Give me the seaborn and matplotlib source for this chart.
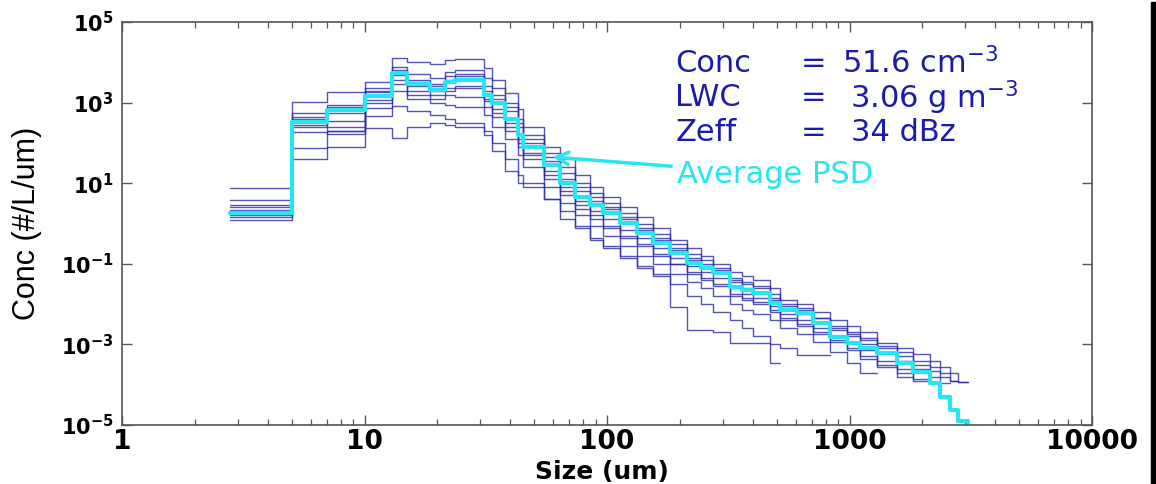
import numpy as np
import pandas as pd
import matplotlib
matplotlib.use("Agg")
import matplotlib.pyplot as plt
from matplotlib.patches import Rectangle
from matplotlib.ticker import FixedLocator, LogLocator, NullFormatter, NullLocator
import seaborn as sns

# ---------------- data ----------------
bin_edges = [2.8, 5, 7, 10, 13, 15, 18.6, 21.5, 23.6, 31, 33.6, 38, 43, 45, 55, 64, 74, 85,
             96, 113, 133, 155, 182, 214, 245, 273, 322, 360, 400, 470, 517, 608, 707, 831,
             977, 1105, 1298, 1570, 1828, 2148, 2362, 2596, 2800, 3080, 3400]

# log10 of concentration (#/L/um) per bin
avg_psd = [0.26, 2.52, 2.82, 3.16, 3.73, 3.47, 3.31, 3.50, 3.56, 3.20, 2.98, 2.60, 2.20, 1.90,
           1.45, 1.00, 0.66, 0.46, 0.26, 0.01, -0.24, -0.48, -0.73, -0.98, -1.10, -1.23, -1.58,
           -1.65, -1.72, -1.97, -2.15, -2.22, -2.47, -2.82, -2.97, -3.10, -3.21, -3.46, -3.68,
           -3.96, -4.31, -4.63, -4.90]

psd_1 = [0.88, 3.01, 3.26, 3.51, 4.10, 4.00, 3.95, 4.05, 4.08, 3.85, 3.55, 3.25, 2.85, 2.40, 1.90,
         1.60, 1.20, 0.90, 0.65, 0.40, 0.15, -0.10, -0.40, -0.60, -0.80, -1.00, -1.20, -1.30, -1.40,
         -1.60, -1.90, -2.00, -2.20, -2.40, -2.55, -2.70, -2.97, -3.10, -3.25, -3.40, -3.55, -3.70, -3.93]
psd_2 = [0.58, 2.74, 2.89, 3.36, 3.88, 3.70, 3.60, 3.75, 3.80, 3.60, 3.35, 3.00, 2.60, 2.20, 1.75,
         1.40, 1.00, 0.75, 0.50, 0.25, 0.00, -0.25, -0.50, -0.75, -0.90, -1.10, -1.35, -1.45, -1.55,
         -1.75, -2.00, -2.10, -2.35, -2.55, -2.70, -2.85, -3.05, -3.20, -3.40, -3.55, -3.70, -3.90]
psd_3 = [0.41, 2.64, 2.74, 3.26, 3.76, 3.50, 3.40, 3.55, 3.65, 3.30, 3.10, 2.80, 2.40, 2.00, 1.55,
         1.10, 0.80, 0.55, 0.35, 0.10, -0.15, -0.40, -0.65, -0.90, -1.05, -1.20, -1.45, -1.60, -1.70,
         -1.90, -2.10, -2.25, -2.45, -2.65, -2.80, -3.00, -3.20, -3.40, -3.60, -3.80, -3.95]
psd_4 = [0.33, 2.52, 2.39, 3.16, 3.68, 3.40, 3.30, 3.35, 3.40, 3.10, 2.85, 2.50, 2.10, 1.75, 1.30,
         0.90, 0.55, 0.30, 0.10, -0.15, -0.35, -0.60, -0.85, -1.05, -1.20, -1.35, -1.60, -1.75, -1.85,
         -2.05, -2.25, -2.40, -2.60, -2.80, -3.00, -3.15, -3.40, -3.60, -3.85]
psd_5 = [0.26, 2.39, 2.30, 3.06, 3.56, 3.30, 3.20, 3.20, 3.15, 2.90, 2.65, 2.30, 1.90, 1.60, 1.10,
         0.70, 0.35, 0.10, -0.10, -0.35, -0.55, -0.80, -1.00, -1.25, -1.40, -1.55, -1.80, -1.90, -2.00,
         -2.20, -2.40, -2.55, -2.75, -2.95, -3.15, -3.35, -3.55, -3.80]
psd_6 = [0.21, 2.27, 2.22, 2.87, 3.29, 3.10, 3.00, 2.95, 2.90, 2.70, 2.40, 2.10, 1.70, 1.40, 0.90,
         0.50, 0.20, -0.05, -0.30, -0.55, -0.80, -1.00, -1.25, -1.45, -1.60, -1.80, -2.00, -2.15, -2.25,
         -2.40, -2.60, -2.75, -2.95, -3.20, -3.45, -3.70]
psd_7 = [0.09, 1.87, 1.90, 2.67, 2.92, 2.80, 2.70, 2.60, 2.50, 2.20, 1.80, 1.30, 1.00, 0.90, 0.60,
         0.10, -0.10, -0.40, -0.60, -0.85, -1.10, -1.30, -2.07, -2.64, -2.64, -2.70, -2.97, -2.97, -2.97,
         -3.46]
psd_8 = [0.15, 1.60, 2.30, 2.37, 2.12, 2.40, 2.50, 2.45, 2.40, 2.30, 2.00, 1.60, 1.20, 1.00, 0.60,
         0.30, -0.05, -0.35, -0.55, -0.80, -1.05, -1.25, -1.50, -1.80, -2.00, -2.20, -2.40, -2.60, -2.80,
         -3.00, -3.10, -3.26, -3.26]
psd_9 = [0.30, 2.45, 2.55, 3.00, 3.45, 3.55, 3.45, 3.65, 3.70, 3.40, 3.20, 2.90, 2.50, 2.10, 1.65,
         1.25, 0.90, 0.65, 0.40, 0.15, -0.10, -0.35, -0.60, -0.85, -1.00, -1.15, -1.40, -1.50, -1.60,
         -1.85, -2.05, -2.15, -2.35, -2.60, -2.75, -2.90, -3.10, -3.30, -3.50, -3.65, -3.80, -3.90, -3.93]
psd_10 = [0.45, 2.60, 2.95, 3.30, 3.80, 3.20, 3.10, 3.30, 3.35, 3.05, 2.75, 2.40, 2.00, 1.70, 1.20,
          0.80, 0.45, 0.20, -0.05, -0.30, -0.50, -0.75, -1.00, -1.20, -1.35, -1.50, -1.75, -1.85, -1.95,
          -2.15, -2.35, -2.50, -2.70, -2.90, -3.10, -3.30, -3.50, -3.70, -3.90]

individual = [psd_1, psd_2, psd_3, psd_4, psd_5, psd_6, psd_7, psd_8, psd_9, psd_10]

x_ticks = [1, 10, 100, 1000, 10000]
x_tick_labels = ["1", "10", "100", "1000", "10000"]
y_exponents = [-5, -3, -1, 1, 3, 5]

stats_names = ["Conc", "LWC", "Zeff"]
stats_values = [r"51.6 cm$^{\mathsf{-3}}$", r"3.06 g m$^{\mathsf{-3}}$", r"34 dBz"]
stats_value_x = [10 ** 2.97, 10 ** 3.0, 10 ** 3.005]

# ---------------- style ----------------
sns.set_style("ticks")
plt.rcParams["font.family"] = ["DejaVu Sans"]
plt.rcParams["mathtext.fontset"] = "custom"
plt.rcParams["mathtext.rm"] = "DejaVu Sans"
plt.rcParams["mathtext.sf"] = "DejaVu Sans"
plt.rcParams["mathtext.bf"] = "DejaVu Sans:bold"
plt.rcParams["mathtext.it"] = "DejaVu Sans:italic"
plt.rcParams["text.color"] = "black"
plt.rcParams["axes.labelcolor"] = "black"

fig = plt.figure(figsize=(11.56, 4.84), dpi=100)
ax = fig.add_axes([122 / 1156, 1 - 425 / 484, (1092 - 122) / 1156, (425 - 22) / 484])


def step_frame(vals, name, end_value=None):
    n = len(vals)
    xs = list(bin_edges[: n + 1])
    ys = [10.0 ** v for v in vals]
    ys.append(10.0 ** vals[-1] if end_value is None else end_value)
    return pd.DataFrame({"size": xs, "conc": ys, "series": name})


blue = "#2b2ba6"
for i, s in enumerate(individual):
    df = step_frame(s, f"s{i}")
    sns.lineplot(data=df, x="size", y="conc", ax=ax, estimator=None, sort=False,
                 drawstyle="steps-post", color=blue, lw=1.0, alpha=0.8)

df_avg = step_frame(avg_psd, "avg", end_value=1e-6)
sns.lineplot(data=df_avg, x="size", y="conc", ax=ax, estimator=None, sort=False,
             drawstyle="steps-post", color="#27e6f0", lw=3.0)

ax.set_xscale("log")
ax.set_yscale("log")
ax.set_xlim(1, 10000)
ax.set_ylim(1e-5, 1e5)

ax.xaxis.set_major_locator(FixedLocator(x_ticks))
ax.set_xticklabels(x_tick_labels, fontsize=19, fontweight="bold")
ax.xaxis.set_minor_locator(LogLocator(base=10, subs=np.arange(2, 10)))
ax.xaxis.set_minor_formatter(NullFormatter())

ax.yaxis.set_major_locator(FixedLocator([10.0 ** e for e in y_exponents]))
ax.set_yticklabels([r"$\mathbf{10^{%d}}$" % e for e in y_exponents], fontsize=15)
ax.yaxis.set_minor_locator(NullLocator())

ax.tick_params(axis="both", which="major", direction="in", length=7, width=1, color="#555555",
               labelcolor="black", top=True, right=True, pad=6)
ax.tick_params(axis="x", which="minor", direction="in", length=4, width=0.9, color="#555555",
               top=True, bottom=True)
ax.tick_params(axis="x", which="major", pad=3)
for sp in ax.spines.values():
    sp.set_color("#555555")
    sp.set_linewidth(1.2)

ax.set_xlabel("Size (um)", fontsize=18, fontweight="bold", va="top")
ax.xaxis.set_label_coords(0.495, -0.087)
ax.set_ylabel("Conc (#/L/um)", fontsize=22, family=["Liberation Sans", "DejaVu Sans"],
              labelpad=2)
ax.yaxis.set_label_coords(-0.082, 0.5)

# annotations
txt_color = "#1c1caa"
rows_y = [10 ** 3.97, 10 ** 3.12, 10 ** 2.27]
for name, val, vx, yy in zip(stats_names, stats_values, stats_value_x, rows_y):
    ax.text(10 ** 2.282, yy, name, color=txt_color, fontsize=22, va="center", ha="left")
    ax.text(10 ** 2.80, yy, "=", color=txt_color, fontsize=22, va="center", ha="left")
    ax.text(vx, yy, val, color=txt_color, fontsize=22, va="center", ha="left")

ax.annotate("Average PSD", xy=(10 ** 1.775, 10 ** 1.65), xytext=(10 ** 2.29, 10 ** 1.22),
            color="#27e6f0", fontsize=22, va="center", ha="left",
            arrowprops=dict(arrowstyle="->", color="#27e6f0", lw=2.5, mutation_scale=22,
                            shrinkA=2, shrinkB=0))

# black strip on right edge
fig.patches.append(Rectangle((1151 / 1156, 0), 5 / 1156, 0.995, transform=fig.transFigure,
                             color="black", zorder=10))

fig.savefig("out.png", dpi=100)
